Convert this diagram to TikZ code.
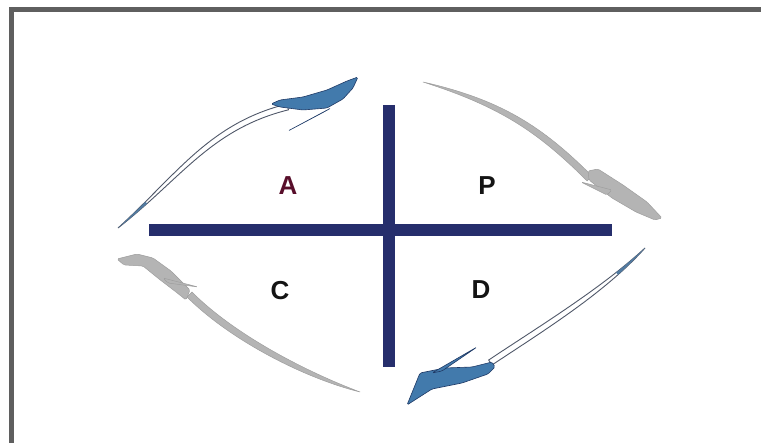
\documentclass[tikz,border=0pt]{standalone}
\usepackage{fontspec}
\setmainfont{Liberation Sans}
\usetikzlibrary{calc}
\definecolor{navybar}{RGB}{38,46,108}
\definecolor{framegray}{RGB}{95,95,95}
\definecolor{bluehead}{RGB}{66,122,172}
\definecolor{bluedark}{RGB}{32,58,102}
\definecolor{shaftline}{RGB}{80,88,105}
\definecolor{grayarrow}{RGB}{180,180,180}
\definecolor{grayedge}{RGB}{158,158,158}
\definecolor{amaroon}{RGB}{88,14,42}
\definecolor{lblblack}{RGB}{20,20,20}
% tapered shaft: outer curve plus an inner curve offset by #5, meeting at the tail
\newcommand\arrowshaft[6]{\path[#6] (#1) .. controls (#2) and (#3) .. (#4) -- ($(#4)!#5!90:(#3)$) .. controls ($(#3)!#5!-90:(#4)$) and ($(#2)!#5!90:(#1)$) .. (#1) -- cycle;}
\tikzset{
  bar/.style={draw=navybar, line width=12pt},
  lbl/.style={font=\bfseries\fontsize{26}{26}\selectfont, inner sep=0pt},
  blueshaft/.style={fill=white, draw=shaftline, line width=0.9pt},
  bluetail/.style={fill=bluehead!75!gray},
  bluehd/.style={fill=bluehead, draw=bluedark, line width=0.6pt, rounded corners=1.5pt},
  grayshaft/.style={fill=grayarrow, draw=grayedge, line width=0.5pt},
  grayhd/.style={fill=grayarrow, draw=grayedge, line width=0.5pt, rounded corners=1.5pt},
}
\begin{document}
\begin{tikzpicture}[x=1pt,y=-1pt]
\useasboundingbox (0,0) rectangle (761,443);
\fill[white] (0,0) rectangle (761,443);
% frame
\draw[framegray, line width=5.5pt] (11.5,443) -- (11.5,9.5) -- (761,9.5);
% cross
\coordinate (hl) at (149,230);
\coordinate (hr) at (612,230);
\coordinate (vt) at (389,105);
\coordinate (vb) at (389,367);
\draw[bar] (hl) -- (hr);
\draw[bar] (vt) -- (vb);
% labels
\node[lbl, text=amaroon] (A) at (288,186) {A};
\node[lbl, text=lblblack] (P) at (487,186) {P};
\node[lbl, text=lblblack] (C) at (280,291) {C};
\node[lbl, text=lblblack] (D) at (481,290) {D};
% top-left arrow (blue)
\arrowshaft{118,228}{177,174.4}{209.4,123.2}{287,104}{6pt}{blueshaft}
\begin{scope}
\clip (118,228) circle (38pt);
\arrowshaft{118,228}{177,174.4}{209.4,123.2}{287,104}{6pt}{bluetail}
\end{scope}
\path[bluehd] (358,77) -- (347,81) -- (327,90) -- (303,97) -- (280,100) -- (271,104) -- (280,107) -- (303,110) -- (327,108) -- (343,99) -- (353,88) -- cycle;
\path[bluehd] (331,108) -- (288,131) -- (322,113) -- cycle;
% bottom-right arrow (blue)
\arrowshaft{645,248}{605,293}{542,331.7}{492,365}{6pt}{blueshaft}
\begin{scope}
\clip (645,248) circle (38pt);
\arrowshaft{645,248}{605,293}{542,331.7}{492,365}{6pt}{bluetail}
\end{scope}
\path[bluehd] (407,405) -- (420,373) -- (445,368) -- (472,367) -- (492,362) -- (495,367) -- (488,374) -- (462,383) -- (432,389) -- cycle;
\path[bluehd] (432,373) -- (477,347) -- (442,371) -- cycle;
% top-right arrow (gray)
\arrowshaft{423,82}{501,99.6}{542.5,126.5}{592,176}{7pt}{grayshaft}
\path[grayhd] (588,171) -- (598,169) -- (623,185) -- (647,202) -- (662,218) -- (655,220) -- (636,212) -- (612,198) -- (589,180) -- cycle;
\path[grayhd] (607,195) -- (581,182) -- (612,190) -- cycle;
% bottom-left arrow (gray)
\arrowshaft{360,392}{302,377.5}{229,339}{187,297}{7pt}{grayshaft}
\path[grayhd] (117,259) -- (137,254) -- (153,258) -- (171,271) -- (190,290) -- (186,300) -- (176,292) -- (159,279) -- (143,266) -- (124,265) -- cycle;
\path[grayhd] (163,278) -- (198,287) -- (168,283) -- cycle;
\end{tikzpicture}
\end{document}
